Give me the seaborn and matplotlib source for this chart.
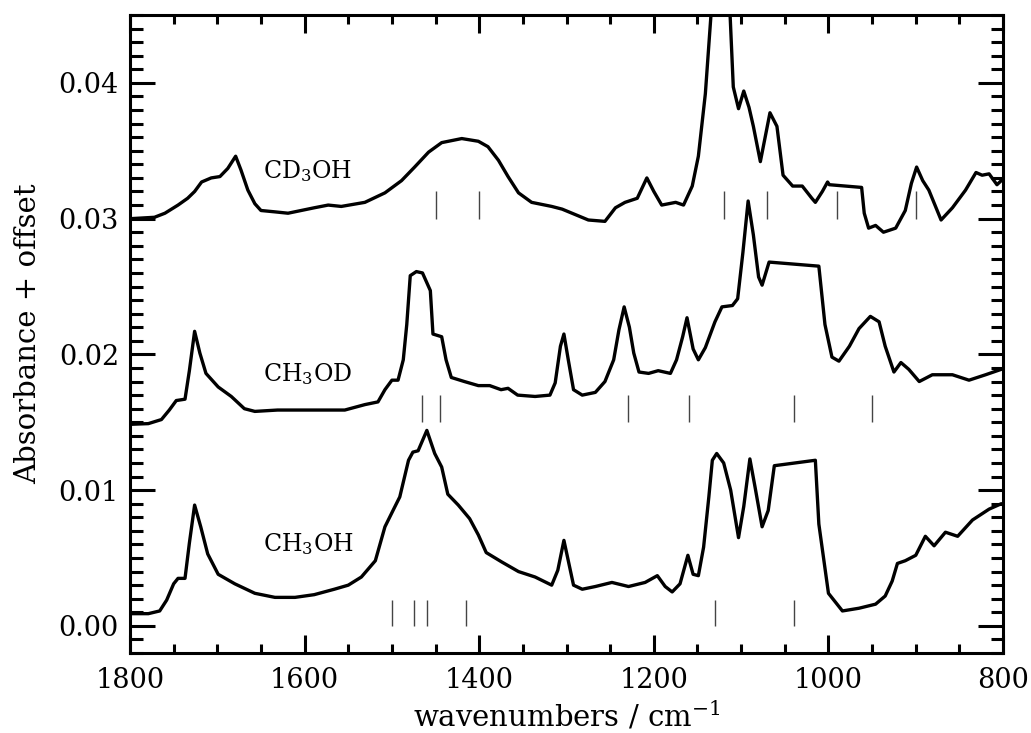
import numpy as np
import pandas as pd
import matplotlib
matplotlib.use("Agg")
import matplotlib.pyplot as plt
from matplotlib.ticker import MultipleLocator
import seaborn as sns

# ---------------- data ----------------
cd3oh_wn = [1799, 1772, 1760, 1745, 1734, 1726, 1718, 1707, 1697, 1688, 1679, 1673, 1665, 1657,
            1650, 1634, 1619, 1604, 1589, 1573, 1558, 1531, 1508, 1489, 1474, 1458, 1443, 1420,
            1401, 1390, 1378, 1367, 1355, 1340, 1317, 1305, 1290, 1275, 1256, 1244, 1233, 1219,
            1208, 1200, 1191, 1175, 1166, 1156, 1149, 1141, 1134, 1124, 1113, 1109, 1103, 1097,
            1091, 1086, 1078, 1067, 1059, 1052, 1041, 1030, 1019, 1015, 1007, 1001, 999, 962,
            959, 954, 946, 937, 923, 912, 905, 899, 892, 885, 871, 858, 843, 831, 824, 816, 807, 802]
cd3oh_abs = [0.0300, 0.0301, 0.0304, 0.0310, 0.0315, 0.0320, 0.0327, 0.0330, 0.0331, 0.0337,
             0.0346, 0.0336, 0.0321, 0.0311, 0.0306, 0.0305, 0.0304, 0.0306, 0.0308, 0.0310,
             0.0309, 0.0312, 0.0319, 0.0328, 0.0338, 0.0349, 0.0356, 0.0359, 0.0357, 0.0353,
             0.0343, 0.0331, 0.0319, 0.0312, 0.0309, 0.0307, 0.0303, 0.0299, 0.0298, 0.0308,
             0.0312, 0.0315, 0.0330, 0.0320, 0.0310, 0.0312, 0.0310, 0.0324, 0.0346, 0.0392,
             0.0455, 0.0500, 0.0455, 0.0397, 0.0381, 0.0394, 0.0382, 0.0368, 0.0342, 0.0378,
             0.0368, 0.0332, 0.0324, 0.0324, 0.0315, 0.0312, 0.0320, 0.0327, 0.0325, 0.0323,
             0.0304, 0.0293, 0.0295, 0.0290, 0.0293, 0.0306, 0.0326, 0.0338, 0.0328, 0.0321,
             0.0299, 0.0308, 0.0321, 0.0334, 0.0332, 0.0333, 0.0325, 0.0328]

ch3od_wn = [1799, 1779, 1764, 1755, 1747, 1737, 1732, 1726, 1720, 1713, 1699, 1684, 1669, 1657,
            1631, 1592, 1554, 1531, 1516, 1508, 1500, 1493, 1487, 1483, 1479, 1472, 1465, 1456,
            1453, 1443, 1438, 1432, 1417, 1401, 1388, 1375, 1367, 1356, 1336, 1319, 1313, 1307,
            1303, 1298, 1292, 1282, 1267, 1256, 1246, 1240, 1234, 1228, 1223, 1217, 1206, 1195,
            1181, 1174, 1167, 1162, 1155, 1149, 1141, 1130, 1122, 1110, 1104, 1098, 1092, 1086,
            1080, 1076, 1068, 1011, 1004, 996, 988, 976, 965, 952, 942, 935, 925, 917, 908, 896,
            881, 858, 839, 820, 802]
ch3od_abs = [0.01485, 0.0149, 0.0152, 0.0159, 0.0166, 0.0167, 0.0188, 0.0217, 0.0201, 0.0186,
             0.0176, 0.0169, 0.0160, 0.0158, 0.0159, 0.0159, 0.0159, 0.0163, 0.0165, 0.0174,
             0.0181, 0.0181, 0.0196, 0.0222, 0.0258, 0.0261, 0.0260, 0.0247, 0.0215, 0.0213,
             0.0196, 0.0183, 0.0180, 0.0177, 0.0177, 0.0174, 0.0175, 0.0170, 0.0169, 0.0170,
             0.0179, 0.0206, 0.0215, 0.0196, 0.0174, 0.0170, 0.0172, 0.0180, 0.0196, 0.0218,
             0.0235, 0.0220, 0.0201, 0.0187, 0.0186, 0.0188, 0.0186, 0.0196, 0.0213, 0.0227,
             0.0204, 0.0196, 0.0205, 0.0224, 0.0235, 0.0236, 0.0241, 0.0275, 0.0313, 0.0288,
             0.0257, 0.0251, 0.0268, 0.0265, 0.0222, 0.0198, 0.0195, 0.0206, 0.0219, 0.0228,
             0.0224, 0.0206, 0.0187, 0.0194, 0.0189, 0.0180, 0.0185, 0.0185, 0.0181, 0.0185, 0.0189]

ch3oh_wn = [1799, 1779, 1766, 1758, 1750, 1745, 1737, 1732, 1726, 1719, 1711, 1699, 1680, 1657,
            1634, 1611, 1589, 1566, 1550, 1535, 1519, 1508, 1498, 1491, 1481, 1476, 1470, 1460,
            1451, 1443, 1436, 1424, 1411, 1401, 1392, 1374, 1355, 1336, 1317, 1310, 1303, 1298,
            1292, 1282, 1267, 1248, 1229, 1210, 1196, 1187, 1179, 1170, 1161, 1155, 1149, 1143,
            1137, 1133, 1128, 1120, 1112, 1103, 1097, 1090, 1084, 1076, 1069, 1062, 1015, 1011,
            1000, 984, 965, 946, 935, 927, 921, 912, 900, 889, 879, 866, 852, 835, 816, 802]
ch3oh_abs = [0.0009, 0.0009, 0.0011, 0.0019, 0.0031, 0.0035, 0.0035, 0.0061, 0.0089, 0.0073,
             0.0053, 0.0038, 0.0031, 0.0024, 0.0021, 0.0021, 0.0023, 0.0027, 0.0030, 0.0036,
             0.0048, 0.0073, 0.0086, 0.0095, 0.0122, 0.0128, 0.0129, 0.0144, 0.0127, 0.0117,
             0.0097, 0.0089, 0.0079, 0.0067, 0.0054, 0.0047, 0.0040, 0.0036, 0.0030, 0.0041,
             0.0063, 0.0048, 0.0030, 0.0027, 0.0029, 0.0032, 0.0029, 0.0032, 0.0037, 0.0029,
             0.0025, 0.0031, 0.0052, 0.0038, 0.0037, 0.0058, 0.0095, 0.0122, 0.0127, 0.0120,
             0.0100, 0.0065, 0.0088, 0.0123, 0.0102, 0.0073, 0.0085, 0.0118, 0.0122, 0.0075,
             0.0024, 0.0011, 0.0013, 0.0016, 0.0022, 0.0033, 0.0046, 0.0048, 0.0052, 0.0066,
             0.0059, 0.0069, 0.0066, 0.0078, 0.0086, 0.0090]

# band positions marked under each spectrum
cd3oh_bands = [1450, 1400, 1120, 1070, 990, 900]
ch3od_bands = [1465, 1445, 1230, 1160, 1040, 950]
ch3oh_bands = [1500, 1475, 1460, 1415, 1130, 1040]
band_spans = {"CD3OH": (0.0300, 0.0320), "CH3OD": (0.0150, 0.0170), "CH3OH": (0.0000, 0.0019)}

species = ["CD3OH", "CH3OD", "CH3OH"]
species_labels = ["CD$_3$OH", "CH$_3$OD", "CH$_3$OH"]
label_pos = [(1648, 0.0330), (1648, 0.0180), (1648, 0.00548)]

y_ticks = [0.00, 0.01, 0.02, 0.03, 0.04]
x_ticks = [1800, 1600, 1400, 1200, 1000, 800]

# ---------------- styling ----------------
sns.set_theme(style="ticks")
plt.rcParams["font.family"] = ["DejaVu Serif"]
plt.rcParams["mathtext.fontset"] = "dejavuserif"
for key in ["text.color", "axes.labelcolor", "xtick.color", "ytick.color", "axes.edgecolor"]:
    plt.rcParams[key] = "black"

frames = []
for name, wn, ab in [("CD3OH", cd3oh_wn, cd3oh_abs), ("CH3OD", ch3od_wn, ch3od_abs),
                     ("CH3OH", ch3oh_wn, ch3oh_abs)]:
    frames.append(pd.DataFrame({"wn": wn, "A": ab, "species": name}))
df = pd.concat(frames, ignore_index=True)

fig = plt.figure(figsize=(10.31, 7.33), dpi=100)
ax = fig.add_axes([0.1261, 0.1091, 0.8468, 0.8704])

sns.lineplot(data=df, x="wn", y="A", units="species", estimator=None, sort=False,
             color="black", linewidth=2.4, ax=ax, legend=False)

for name, bands in zip(species, [cd3oh_bands, ch3od_bands, ch3oh_bands]):
    lo, hi = band_spans[name]
    ax.vlines(bands, lo, hi, colors="#444444", linewidth=1.0)

for lab, (x, y) in zip(species_labels, label_pos):
    ax.text(x, y, lab, fontsize=17, ha="left", va="baseline", color="black")

ax.set_xlim(1800, 800)
ax.set_ylim(-0.002, 0.045)
ax.set_xticks(x_ticks)
ax.set_xticklabels([str(t) for t in x_ticks])
ax.set_yticks(y_ticks)
ax.set_yticklabels([f"{t:.2f}" for t in y_ticks])
ax.xaxis.set_minor_locator(MultipleLocator(50))
ax.yaxis.set_minor_locator(MultipleLocator(0.001))
ax.tick_params(which="both", direction="in", top=True, right=True, width=2.2, color="black")
ax.tick_params(axis="x", which="major", length=13, labelsize=19.5, pad=10)
ax.tick_params(axis="x", which="minor", length=6.5)
ax.tick_params(axis="y", which="major", length=18, labelsize=19.5, pad=8)
ax.tick_params(axis="y", which="minor", length=9)
for s in ax.spines.values():
    s.set_linewidth(2.2)
    s.set_color("black")
    s.set_visible(True)

ax.set_xlabel("wavenumbers / cm$^{-1}$", fontsize=21, labelpad=4)
ax.set_ylabel("Absorbance + offset", fontsize=21, labelpad=12)

fig.savefig("out.png", dpi=100)
